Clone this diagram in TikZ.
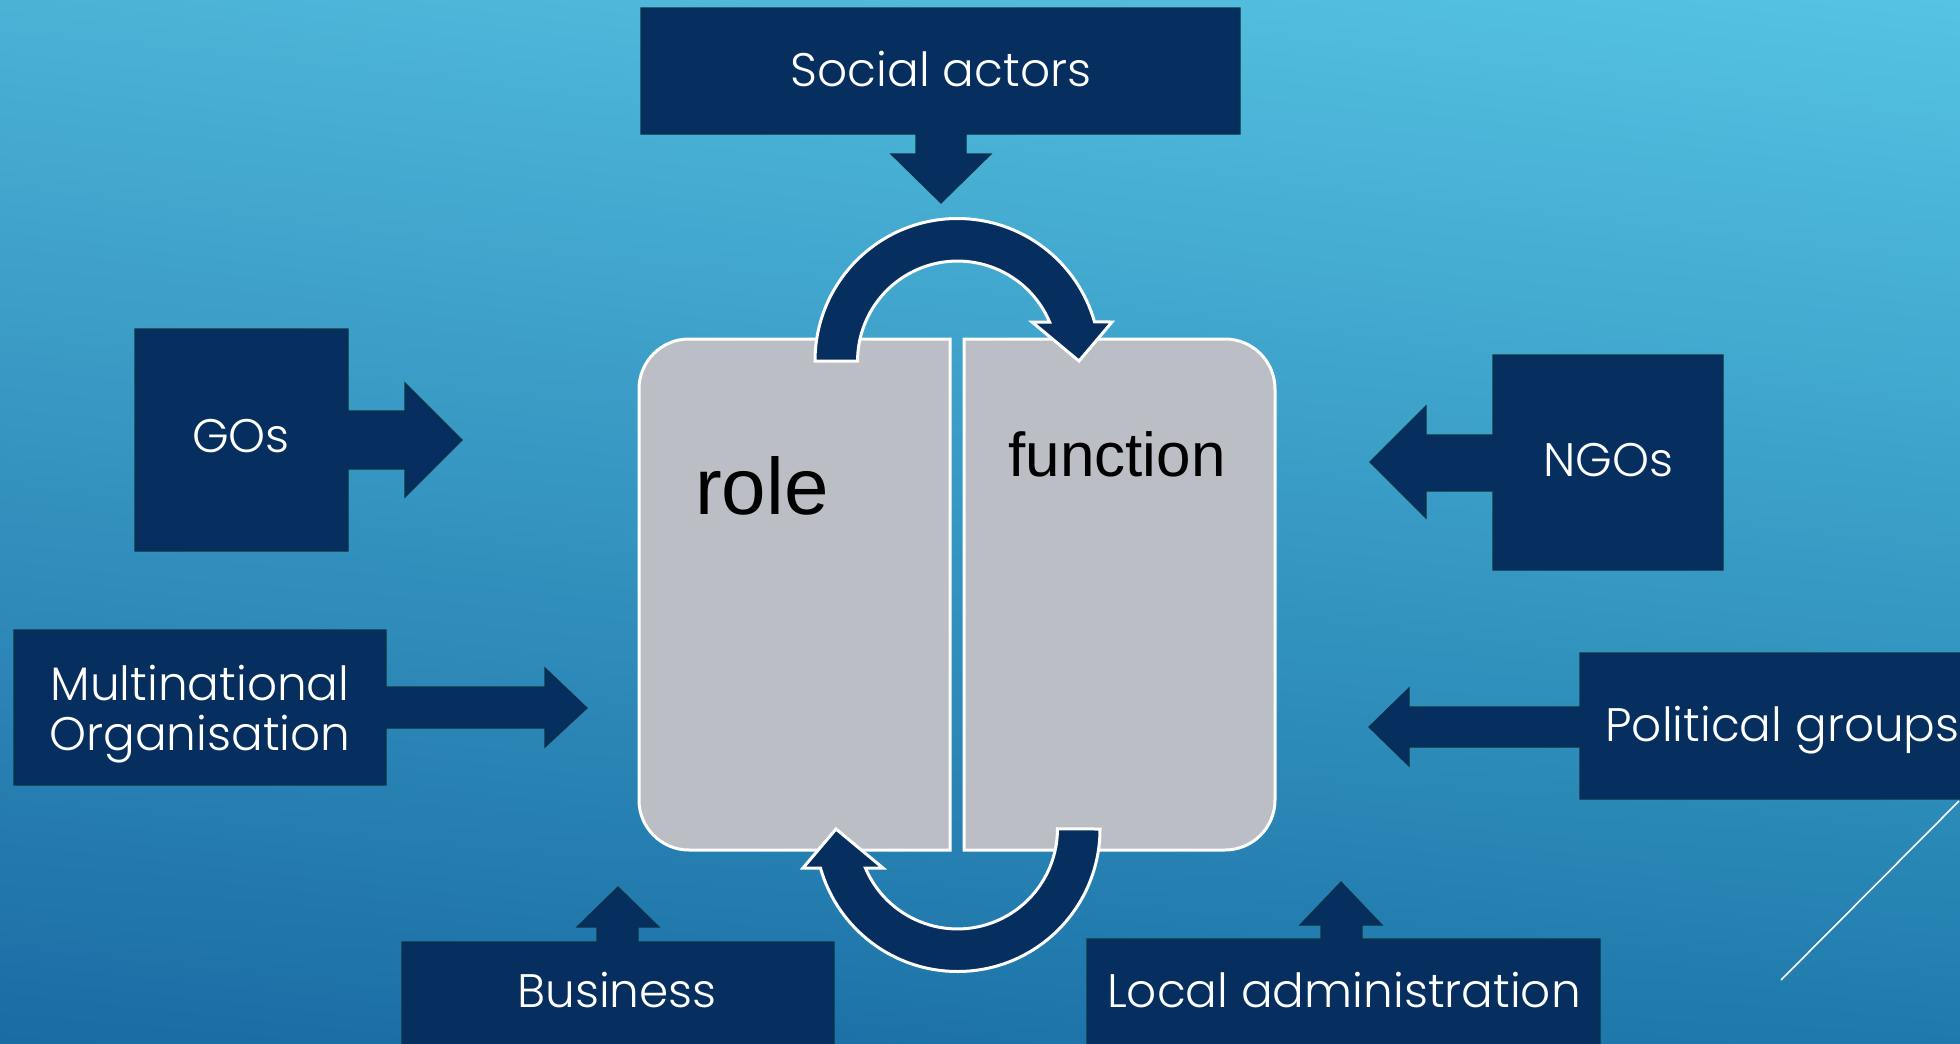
\documentclass[tikz,border=0pt]{standalone}
\usepackage{fontspec}
\usetikzlibrary{shadings}
\newfontfamily\gothicfont{Poppins Light}
\newfontfamily\arialfont{Liberation Sans}
\definecolor{navyfill}{RGB}{6,46,94}
\definecolor{boxedge}{RGB}{10,52,72}
\definecolor{panelgray}{RGB}{188,190,198}
\definecolor{skytl}{RGB}{75,178,214}
\definecolor{skytr}{RGB}{85,195,227}
\definecolor{skybl}{RGB}{26,108,164}
\definecolor{skybr}{RGB}{31,122,172}
\tikzset{
  callout/.style={fill=navyfill, draw=boxedge, line width=0.6pt, line join=miter},
  loopband/.style={fill=navyfill, draw=white, line width=1.5pt, line join=miter},
  panel/.style={fill=panelgray, draw=white, line width=1.5pt},
  boxtext/.style={text=white, anchor=base, inner sep=0pt, font=\gothicfont\fontsize{23.5}{25}\selectfont},
  paneltext/.style={text=black, anchor=base, inner sep=0pt},
}
\begin{document}
\begin{tikzpicture}[x=0.5pt,y=0.5pt,yscale=-1,xscale=1]
\useasboundingbox (0,0) rectangle (1960,1044);

%Background
\shade[upper left=skytl, upper right=skytr, lower left=skybl, lower right=skybr] (0,0) rectangle (1960,1044);

%Shape: Round Same Side Corner Rectangle [left panel]
\draw [panel] (950,339) -- (689,339) arc[start angle=270, end angle=180, radius=50] -- (639,800) arc[start angle=180, end angle=90, radius=50] -- (950,850) -- cycle;
%Shape: Round Same Side Corner Rectangle [right panel]
\draw [panel] (964,339) -- (1225,339) arc[start angle=270, end angle=360, radius=50] -- (1275,800) arc[start angle=0, end angle=90, radius=50] -- (964,850) -- cycle;

%Shape: Circular Arrow [top]
\draw [loopband] (815,361) arc[start angle=180, end angle=344.1, radius=142.5] -- (1112,322) -- (1079,361) -- (1032,322) -- (1049.6,322) arc[start angle=337, end angle=180, radius=100] -- cycle;
%Shape: Circular Arrow [bottom]
\draw [loopband] (1100,829) arc[start angle=0, end angle=164.1, radius=142.5] -- (803,868) -- (836,829) -- (883,868) -- (865.4,868) arc[start angle=157, end angle=0, radius=100] -- cycle;

%Shape: Down Arrow Callout
\draw [callout] (641,8) -- (1240,8) -- (1240,134) -- (966,134) -- (966,154) -- (991,154) -- (941,203) -- (891,154) -- (916,154) -- (916,134) -- (641,134) -- cycle;
%Shape: Right Arrow Callout
\draw [callout] (135,329) -- (348,329) -- (348,411) -- (405,411) -- (405,383) -- (462,440) -- (405,497) -- (405,469) -- (348,469) -- (348,551) -- (135,551) -- cycle;
%Shape: Left Arrow Callout
\draw [callout] (1723,355) -- (1493,355) -- (1493,435) -- (1426,435) -- (1426,406) -- (1370,462) -- (1426,518) -- (1426,491) -- (1493,491) -- (1493,570) -- (1723,570) -- cycle;
%Shape: Right Arrow Callout
\draw [callout] (14,630) -- (386,630) -- (386,687) -- (545,687) -- (545,668) -- (587,708) -- (545,747) -- (545,728) -- (386,728) -- (386,785) -- (14,785) -- cycle;
%Shape: Left Arrow Callout
\draw [callout] (1965,653) -- (1580,653) -- (1580,707) -- (1409,707) -- (1409,688) -- (1369,727) -- (1409,766) -- (1409,747) -- (1580,747) -- (1580,799) -- (1965,799) -- cycle;
%Shape: Up Arrow Callout
\draw [callout] (402,1050) -- (402,942) -- (597,942) -- (597,927) -- (577,927) -- (618,887) -- (659,927) -- (638,927) -- (638,942) -- (834,942) -- (834,1050) -- cycle;
%Shape: Up Arrow Callout
\draw [callout] (1087,1050) -- (1087,939) -- (1321,939) -- (1321,925) -- (1300,925) -- (1341,882) -- (1382,925) -- (1362,925) -- (1362,939) -- (1600,939) -- (1600,1050) -- cycle;

%Straight Lines
\coordinate (slashtop) at (1959,801);
\coordinate (slashbot) at (1781,980);
\draw [white, line width=0.8pt] (slashtop) -- (slashbot);

% Text Node
\node [paneltext, font=\arialfont\fontsize{40}{40}\selectfont] (role) at (762,514) {role};
% Text Node
\node [paneltext, font=\arialfont\fontsize{31}{31}\selectfont] (function) at (1117,476) {function};
% Text Node
\node [boxtext] (social) at (941,86) {Social actors};
% Text Node
\node [boxtext] (gos) at (241,452) {GOs};
% Text Node
\node [boxtext] (ngos) at (1608,476) {NGOs};
% Text Node
\node [boxtext, align=center] (multi) at (200,750) {Multinational\\Organisation};
% Text Node
\node [boxtext, anchor=base west] (political) at (1605,741) {Political groups};
% Text Node
\node [boxtext] (business) at (617,1007) {Business};
% Text Node
\node [boxtext] (localadm) at (1344,1007) {Local administration};

\end{tikzpicture}
\end{document}
